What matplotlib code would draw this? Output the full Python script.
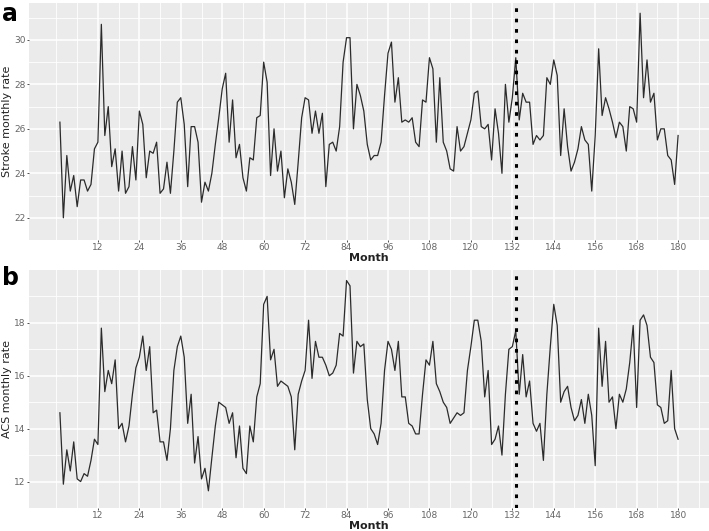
import matplotlib
matplotlib.use("Agg")
import matplotlib.pyplot as plt
import numpy as np

# monthly rates, months 1..180
months = np.arange(1, 181)

stroke = [
    26.3, 22.0, 24.8, 23.2, 23.9, 22.5, 23.7, 23.7, 23.2, 23.5,
    25.1, 25.4, 30.7, 25.7, 27.0, 24.3, 25.1, 23.2, 25.0, 23.1,
    23.4, 25.2, 23.7, 26.8, 26.2, 23.8, 25.0, 24.9, 25.4, 23.1,
    23.3, 24.5, 23.1, 25.0, 27.2, 27.4, 26.2, 23.4, 26.1, 26.1,
    25.4, 22.7, 23.6, 23.2, 24.0, 25.3, 26.5, 27.8, 28.5, 25.4,
    27.3, 24.7, 25.3, 23.8, 23.2, 24.7, 24.6, 26.5, 26.6, 29.0,
    28.1, 23.9, 26.0, 24.1, 25.0, 22.9, 24.2, 23.6, 22.6, 24.5,
    26.5, 27.4, 27.3, 25.8, 26.8, 25.8, 26.7, 23.4, 25.3, 25.4,
    25.0, 26.1, 29.0, 30.1, 30.1, 26.0, 28.0, 27.5, 26.8, 25.3,
    24.6, 24.8, 24.8, 25.4, 27.5, 29.4, 29.9, 27.2, 28.3, 26.3,
    26.4, 26.3, 26.5, 25.4, 25.2, 27.3, 27.2, 29.2, 28.7, 25.4,
    28.3, 25.4, 25.0, 24.2, 24.1, 26.1, 25.0, 25.2, 25.8, 26.4,
    27.6, 27.7, 26.1, 26.0, 26.2, 24.6, 26.9, 25.8, 24.0, 28.0,
    26.3, 27.4, 29.2, 26.4, 27.6, 27.2, 27.2, 25.3, 25.7, 25.5,
    25.7, 28.3, 28.0, 29.1, 28.4, 24.8, 26.9, 25.2, 24.1, 24.5,
    25.1, 26.1, 25.5, 25.3, 23.2, 25.7, 29.6, 26.6, 27.4, 26.9,
    26.3, 25.6, 26.3, 26.1, 25.0, 27.0, 26.9, 26.3, 31.2, 27.4,
    29.1, 27.2, 27.6, 25.5, 26.0, 26.0, 24.8, 24.6, 23.5, 25.7,
]

acs = [
    14.6, 11.9, 13.2, 12.4, 13.5, 12.1, 12.0, 12.3, 12.2, 12.8,
    13.6, 13.4, 17.8, 15.4, 16.2, 15.7, 16.6, 14.0, 14.2, 13.5,
    14.1, 15.3, 16.3, 16.7, 17.5, 16.2, 17.1, 14.6, 14.7, 13.5,
    13.5, 12.8, 14.0, 16.2, 17.1, 17.5, 16.7, 14.2, 15.3, 12.7,
    13.7, 12.1, 12.5, 11.65, 12.9, 14.1, 15.0, 14.9, 14.8, 14.2,
    14.6, 12.9, 14.1, 12.5, 12.3, 14.1, 13.5, 15.2, 15.7, 18.7,
    19.0, 16.6, 17.0, 15.6, 15.8, 15.7, 15.6, 15.2, 13.2, 15.3,
    15.8, 16.2, 18.1, 15.9, 17.3, 16.7, 16.7, 16.4, 16.0, 16.1,
    16.4, 17.6, 17.5, 19.6, 19.4, 16.1, 17.3, 17.1, 17.2, 15.1,
    14.0, 13.8, 13.4, 14.2, 16.2, 17.3, 17.0, 16.2, 17.3, 15.2,
    15.2, 14.2, 14.1, 13.8, 13.8, 15.3, 16.6, 16.4, 17.3, 15.7,
    15.4, 15.0, 14.8, 14.2, 14.4, 14.6, 14.5, 14.6, 16.2, 17.1,
    18.1, 18.1, 17.3, 15.2, 16.2, 13.4, 13.6, 14.1, 13.0, 15.3,
    17.0, 17.1, 17.7, 15.3, 16.8, 15.2, 15.8, 14.2, 13.9, 14.2,
    12.8, 15.3, 17.1, 18.7, 17.9, 15.0, 15.4, 15.6, 14.8, 14.3,
    14.5, 15.1, 14.2, 15.3, 14.5, 12.6, 17.8, 15.6, 17.3, 15.0,
    15.2, 14.0, 15.3, 15.0, 15.5, 16.5, 17.9, 14.8, 18.1, 18.3,
    17.9, 16.7, 16.5, 14.9, 14.8, 14.2, 14.3, 16.2, 14.0, 13.6,
]

x_ticks = list(range(12, 181, 12))
stroke_ticks = [22, 24, 26, 28, 30]
acs_ticks = [12, 14, 16, 18]
cutoff_month = 133

fig = plt.figure(figsize=(7.09, 5.31), dpi=100)
ax_a = fig.add_axes([29 / 709, 1 - 240 / 531, 680 / 709, 237 / 531])
ax_b = fig.add_axes([29 / 709, 1 - 508 / 531, 680 / 709, 238 / 531])


def gg_style(ax, y, yticks, ylabel):
    # ggplot-ish grey panel with 5% expansion
    ax.set_facecolor("#EBEBEB")
    for s in ax.spines.values():
        s.set_visible(False)
    lo, hi = min(y), max(y)
    pad = (hi - lo) * 0.05
    ax.set_ylim(lo - pad, hi + pad)
    xpad = (180 - 1) * 0.05
    ax.set_xlim(1 - xpad, 180 + xpad)
    ax.set_xticks(x_ticks)
    ax.set_xticks(np.arange(0, 190, 6), minor=True)
    ax.set_yticks(yticks)
    ax.set_yticks(np.arange(yticks[0] - 1, yticks[-1] + 2, 1), minor=True)
    ax.grid(which="major", color="white", linewidth=1.1)
    ax.grid(which="minor", color="white", linewidth=0.6)
    ax.set_axisbelow(True)
    ax.tick_params(which="major", length=1.5, width=0.6, color="#333333",
                   labelsize=6.5, labelcolor="#666666", pad=1)
    ax.tick_params(which="minor", length=0)
    ax.set_xlabel("Month", fontsize=8, color="#222222", fontweight="bold")
    ax.xaxis.set_label_coords(0.5, -0.055)
    ax.set_ylabel(ylabel, fontsize=8, color="#222222",
                  family=["Liberation Sans Narrow", "DejaVu Sans"])
    ax.yaxis.set_label_coords(-22 / 680, 0.5)
    ax.yaxis.label.set_va("center")


ax_a.plot(months, stroke, color="#2b2b2b", linewidth=0.9)
ax_a.axvline(cutoff_month, color="black", linewidth=2.2, linestyle=(0, (1.2, 2.2)))
gg_style(ax_a, stroke, stroke_ticks, "Stroke monthly rate")

ax_b.plot(months, acs, color="#2b2b2b", linewidth=0.9)
ax_b.axvline(cutoff_month, color="black", linewidth=2.2, linestyle=(0, (1.2, 2.2)))
gg_style(ax_b, acs, acs_ticks, "ACS monthly rate")

fig.text(2 / 709, 1 - 2 / 531, "a", fontsize=17, fontweight="bold", va="top", ha="left")
fig.text(2 / 709, 1 - 266 / 531, "b", fontsize=17, fontweight="bold", va="top", ha="left")

fig.savefig("out.png", dpi=100)
